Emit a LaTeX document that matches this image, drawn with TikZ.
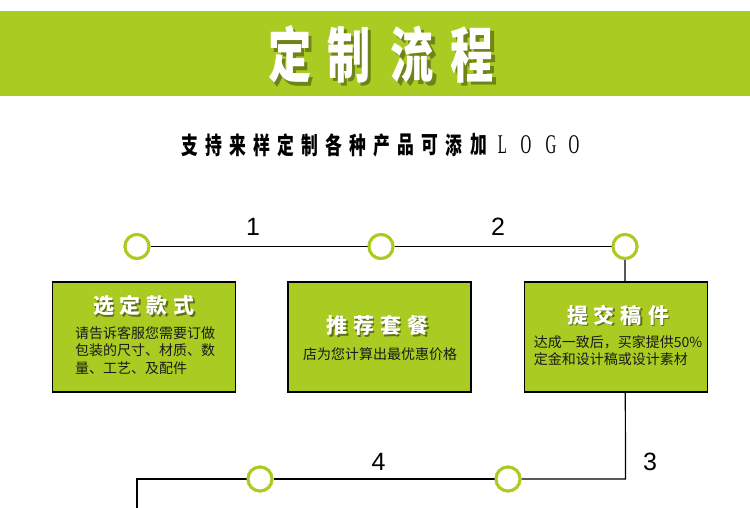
\documentclass[tikz,border=0pt]{standalone}
\usepackage{fontspec}
\setmainfont{Liberation Sans}
\newfontfamily\cjk{Noto Sans CJK SC}
\newfontfamily\serifL{Liberation Serif}
\definecolor{lime}{RGB}{170,204,34}
\definecolor{ink}{RGB}{26,26,26}
\newcommand\gap{\hspace{6pt}}
\tikzset{
  ring/.style={circle, draw=lime, line width=3pt, fill=white, minimum size=24pt, inner sep=0pt},
  wire/.style={draw=black, line width=1.2pt},
  stepbox/.style={draw=black, line width=1.3pt, fill=lime, minimum width=183pt, minimum height=110pt, inner sep=0pt},
  num/.style={font=\fontsize{25}{25}\selectfont, text=black, inner sep=0pt},
  bigtitle/.style={font=\cjk\bfseries\fontsize{60}{60}\selectfont, text=white, inner sep=0pt},
  bigshadow/.style={font=\cjk\bfseries\fontsize{60}{60}\selectfont, text=black, opacity=0.35, inner sep=0pt},
  subch/.style={font=\cjk\bfseries\fontsize{24}{24}\selectfont, text=black, inner sep=0pt},
  subL/.style={font=\serifL\fontsize{27}{27}\selectfont, text=black, inner sep=0pt},
  boxtitle/.style={font=\cjk\bfseries\fontsize{21}{21}\selectfont, text=white, inner sep=0pt},
  boxshadow/.style={font=\cjk\bfseries\fontsize{21}{21}\selectfont, text=black, opacity=0.45, inner sep=0pt},
  boxtext/.style={font=\cjk\fontsize{14}{17.5}\selectfont, text=ink, align=left, inner sep=0pt},
}
\begin{document}
\begin{tikzpicture}[x=1pt,y=-1pt]
\useasboundingbox (0,0) rectangle (750,507);
\fill[white] (0,0) rectangle (750,507);
% banner
\fill[lime] (0,11) rectangle (750,96);
\foreach \c/\x [count=\i] in {定/290,制/349,流/412.5,程/472.5}{
  \node[bigshadow] (ts\i) at (\x+3.5,58) {\scalebox{0.72}[1]{\c}};
  \node[bigtitle] (t\i) at (\x,54.5) {\scalebox{0.72}[1]{\c}};
}
% subtitle
\foreach \c [count=\i from 0] in {支,持,来,样,定,制,各,种,产,品,可,添,加}{
  \node[subch] (s\i) at ({189.5+24.08*\i},145) {\scalebox{0.7}[1]{\c}};
}
\foreach \c/\x [count=\i] in {L/502.5,O/526,G/551,O/574}{
  \node[subL] (l\i) at (\x,145) {\scalebox{0.55}[1]{\c}};
}
% route
\node[ring] (c1) at (137,246.5) {};
\node[ring] (c2) at (381,246.5) {};
\node[ring] (c3) at (625,246.5) {};
\coordinate (k1) at (625.5,479);
\coordinate (k2) at (137,479);
\coordinate (kend) at (137,510);
\node[ring] (c5) at (508,479) {};
\node[ring] (c4) at (260,479) {};
\draw[wire] (c1) -- (c2);
\draw[wire] (c2) -- (c3);
\draw[wire] (c3.south) -- (k1) -- (c5);
\draw[wire] (c5) -- (c4);
\draw[wire] (c4) -- (k2) -- (kend);
% redraw rings on top
\node[ring] at (c1) {};
\node[ring] at (c2) {};
\node[ring] at (c3) {};
\node[ring] at (c4) {};
\node[ring] at (c5) {};
% numbers
\node[num] (n1) at (253,227) {1};
\node[num] (n2) at (498,227) {2};
\node[num] (n3) at (650,461.5) {3};
\node[num] (n4) at (378.5,462) {4};
% boxes
\node[stepbox] (b1) at (144,337) {};
\node[stepbox] (b2) at (379.5,337) {};
\node[stepbox] (b3) at (616,337) {};
% box titles
\node[boxshadow] at (145.5,307.5) {选\gap 定\gap 款\gap 式};
\node[boxtitle] (h1) at (144,306) {选\gap 定\gap 款\gap 式};
\node[boxshadow] at (379,327.5) {推\gap 荐\gap 套\gap 餐};
\node[boxtitle] (h2) at (377.5,326) {推\gap 荐\gap 套\gap 餐};
\node[boxshadow] at (619.5,316.5) {提\gap 交\gap 稿\gap 件};
\node[boxtitle] (h3) at (618,315) {提\gap 交\gap 稿\gap 件};
% box texts
\node[boxtext] (p1) at (145,350.5) {请告诉客服您需要订做\\包装的尺寸、材质、数\\量、工艺、及配件};
\node[boxtext] (p2) at (380,354) {店为您计算出最优惠价格};
\node[boxtext] (p3) at (618,350.5) {达成一致后，买家提供50\%\\定金和设计稿或设计素材};
\end{tikzpicture}
\end{document}
